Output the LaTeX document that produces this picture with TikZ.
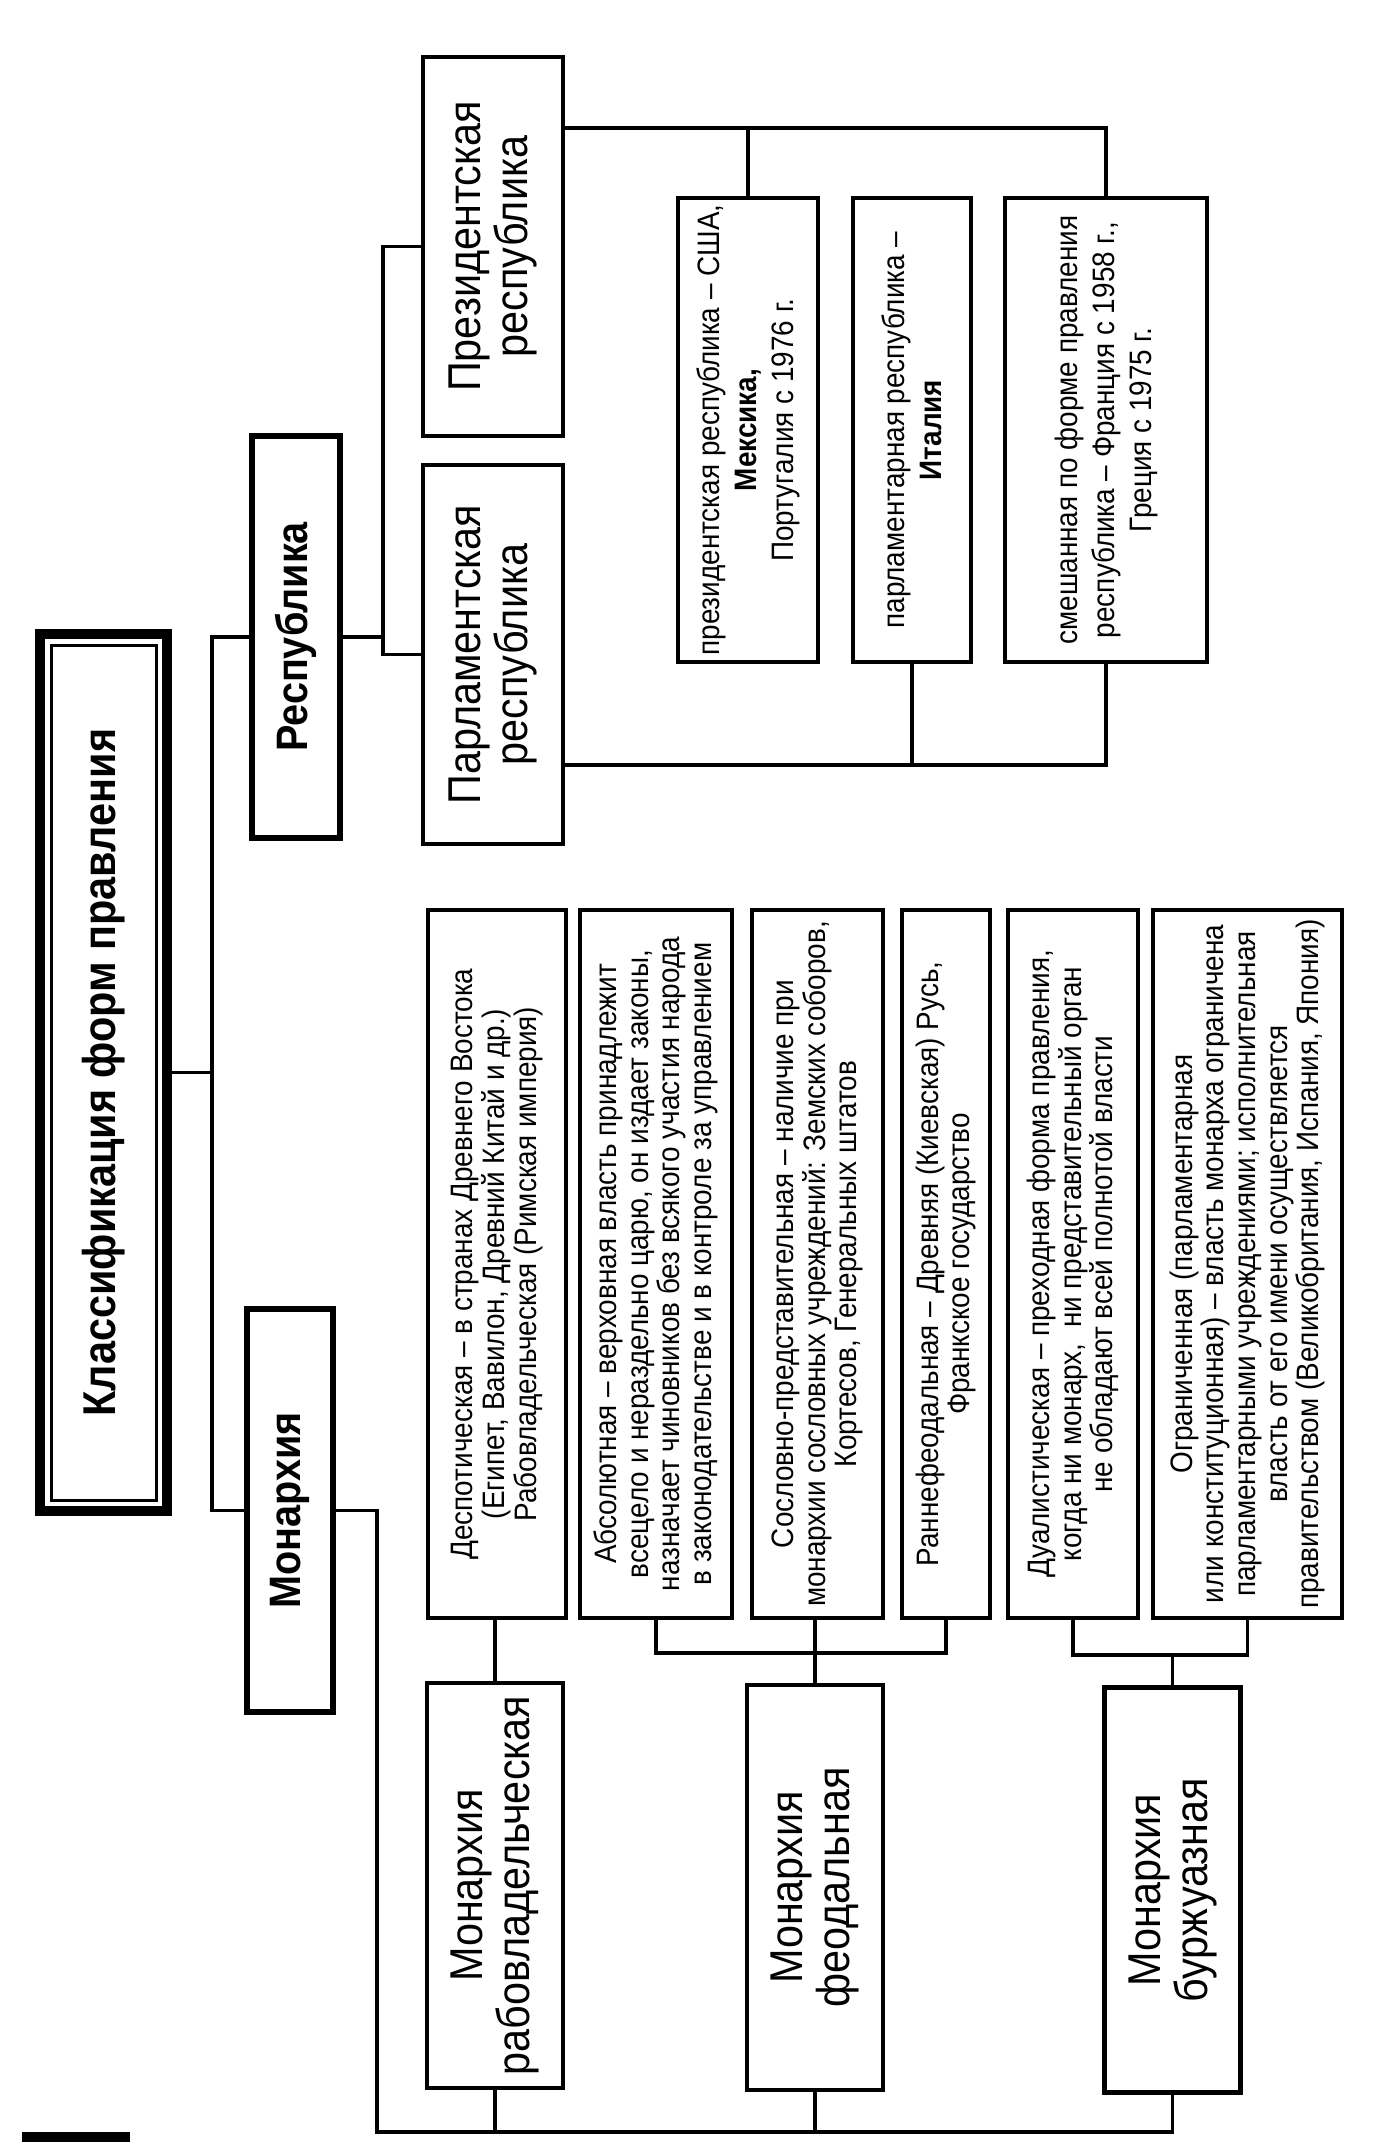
\documentclass[tikz,border=0pt]{standalone}
\usepackage{fontspec}
\setmainfont{Liberation Sans}[FakeStretch=0.9]
\usetikzlibrary{positioning}
\tikzset{
  vbox/.style={draw, rotate=90, align=center, inner sep=0pt, outer sep=0pt,
    line width=2pt},
  headbox/.style={vbox, line width=3pt, font=\bfseries\fontsize{22}{26}\selectfont},
  typebox/.style={vbox, line width=2.2pt, font=\fontsize{23}{23.5}\selectfont},
  notebox/.style={vbox, minimum width=354pt, font=\fontsize{15.5}{15.8}\selectfont},
  examplebox/.style={vbox, minimum width=232pt, font=\fontsize{15.5}{18.5}\selectfont},
  wire/.style={line width=1.8pt}
}

\begin{document}
\begin{tikzpicture}[x=0.5pt, y=-0.5pt]
  \useasboundingbox (0,0) rectangle (1388,2142);

  % title and the two main forms
  \node[vbox, line width=5pt, minimum width=438.5pt, minimum height=63.5pt,
    font=\bfseries\fontsize{23}{27}\selectfont] (title) at (103.5,1072.5)
    {Классификация форм правления};
  \draw[line width=1.5pt] ([shift={(11,11)}]title.north east) rectangle
    ([shift={(-11,-11)}]title.south west);

  \node[headbox, minimum width=201pt, minimum height=44pt] (rep) at (296,637) {Республика};
  \node[headbox, minimum width=201.5pt, minimum height=43pt] (mon) at (290,1510.5) {Монархия};

  % republics
  \node[typebox, minimum width=189.5pt, minimum height=70pt] (pres) at (493,246.5)
    {Президентская\\республика};
  \node[typebox, minimum width=189.5pt, minimum height=70pt] (parl) at (493,654.5)
    {Парламентская\\республика};

  \node[examplebox, minimum height=70pt] (exA) at (748,430)
    {президентская республика -- США,\\\textbf{Мексика,}\\Португалия с 1976 г.};
  \node[examplebox, minimum height=59pt] (exB) at (912,430)
    {парламентарная республика --\\\textbf{Италия}};
  \node[examplebox, minimum height=101pt] (exC) at (1106,430)
    {смешанная по форме правления\\республика -- Франция с 1958 г.,\\Греция с 1975 г.};

  % monarchies
  \node[notebox, minimum height=69pt] (despot) at (497,1264)
    {Деспотическая -- в странах Древнего Востока\\(Египет, Вавилон, Древний Китай и др.)\\Рабовладельческая (Римская империя)};
  \node[notebox, minimum height=76pt] (absol) at (656,1264)
    {Абсолютная -- верховная власть принадлежит\\всецело и нераздельно царю, он издает законы,\\назначает чиновников без всякого участия народа\\в законодательстве и в контроле за управлением};
  \node[notebox, minimum height=65.5pt] (sosl) at (817.5,1264)
    {Сословно-представительная -- наличие при\\монархии сословных учреждений: Земских соборов,\\Кортесов, Генеральных штатов};
  \node[notebox, minimum height=44pt] (ranne) at (946,1264)
    {Раннефеодальная -- Древняя (Киевская) Русь,\\Франкское государство};
  \node[notebox, minimum height=65pt] (dual) at (1073,1264)
    {Дуалистическая -- преходная форма правления,\\когда ни монарх,\ \ ни представительный орган\\не обладают всей полнотой власти};
  \node[notebox, minimum height=94.5pt] (limit) at (1247.5,1264)
    {Ограниченная (парламентарная\\или конституционная) -- власть монарха ограничена\\парламентарными учреждениями; исполнительная\\власть от его имени осуществляется\\правительством (Великобритания, Испания, Япония)};

  \node[typebox, minimum width=202.5pt, minimum height=68pt] (slave) at (495,1885.5)
    {Монархия\\рабовладельческая};
  \node[typebox, minimum width=202.5pt, minimum height=68pt] (feud) at (815,1887.5)
    {Монархия\\феодальная};
  \node[typebox, minimum width=202.5pt, minimum height=68pt] (bourg) at (1172.5,1890)
    {Монархия\\буржуазная};

  % bus lines
  \coordinate (spine) at (212,0);
  \coordinate (fork) at (383,0);
  \coordinate (topbus) at (0,128);
  \coordinate (botbus) at (0,765);
  \coordinate (feudbus) at (0,1653);
  \coordinate (bourgbus) at (0,1655);
  \coordinate (trunk) at (377,2132);

  \draw[wire] (title.south) -- (spine |- title.south);
  \draw[wire] (rep.north) -| (spine |- mon.north) -- (mon.north);
  \draw[wire] (rep.south) -- (fork |- rep.south);
  \draw[wire] (pres.north) -| (fork |- parl.north) -- (parl.north);
  \draw[wire] (pres.south |- topbus) -| (exC.east);
  \draw[wire] (exA.east) -- (exA.east |- topbus);
  \draw[wire] (parl.south |- botbus) -| (exC.west);
  \draw[wire] (exB.west) -- (exB.west |- botbus);

  \draw[wire] (slave.east) -- (slave.east |- despot.west);
  \draw[wire] (absol.west) |- (ranne.west |- feudbus) -- (ranne.west);
  \draw[wire] (feud.east) -- (feud.east |- sosl.west);
  \draw[wire] (dual.west) |- (limit.west |- bourgbus) -- (limit.west);
  \draw[wire] (bourg.east) -- (bourg.east |- bourgbus);
  \draw[wire] (mon.south) -| (trunk) -| (bourg.west);
  \draw[wire] (slave.west) -- (slave.west |- trunk);
  \draw[wire] (feud.west) -- (feud.west |- trunk);

  \fill (22,2132) rectangle (130,2142);
\end{tikzpicture}
\end{document}
